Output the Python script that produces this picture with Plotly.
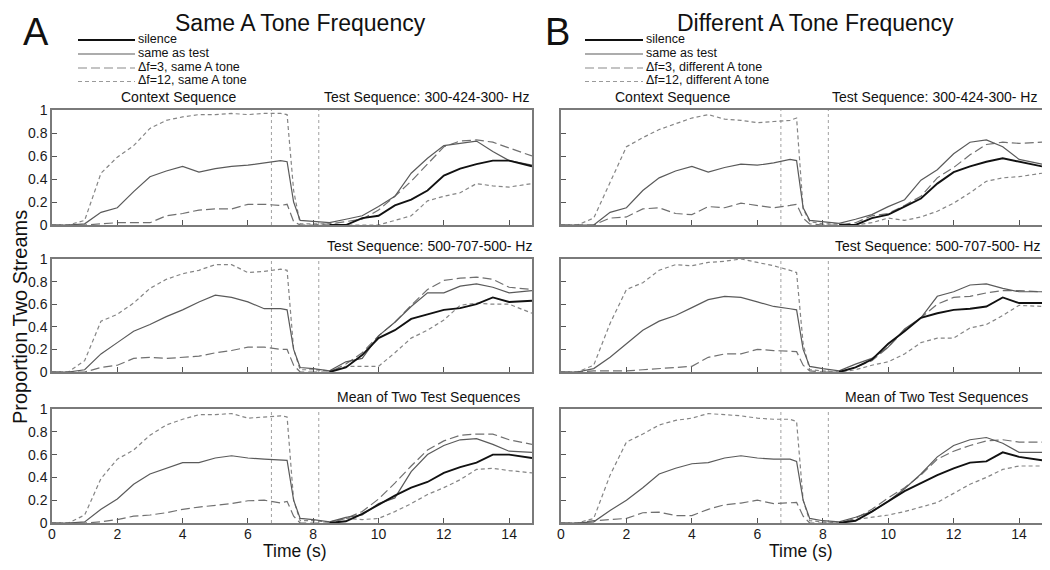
import plotly.graph_objects as go

# ---------------- data ----------------
T = [0, 0.5, 1.0, 1.5, 2.0, 2.5, 3.0, 3.5, 4.0, 4.5, 5.0, 5.5, 6.0, 6.5, 7.0, 7.2,
     7.4, 7.6, 8.0, 8.5, 9.0, 9.5, 10.0, 10.5, 11.0, 11.5, 12.0, 12.5, 13.0, 13.5, 14.0, 14.7]
T_SIL = [8.5, 9.0, 9.5, 10.0, 10.5, 11.0, 11.5, 12.0, 12.5, 13.0, 13.5, 14.0, 14.7]
BOUNDARIES = [6.72, 8.17]

# Panel A, test 300-424-300 Hz
A1_SIL = [0, 0, 0.06, 0.08, 0.17, 0.22, 0.3, 0.43, 0.49, 0.53, 0.56, 0.56, 0.51]
A1_SAME = [0, 0, 0.01, 0.11, 0.15, 0.29, 0.42, 0.47, 0.51, 0.46, 0.49, 0.51, 0.52, 0.54, 0.56, 0.55,
           0.2, 0.04, 0.03, 0.02, 0.05, 0.08, 0.16, 0.25, 0.45, 0.58, 0.69, 0.71, 0.73, 0.64, 0.56, 0.52]
A1_DF3 = [0, 0, 0, 0.01, 0.02, 0.02, 0.02, 0.08, 0.1, 0.13, 0.14, 0.14, 0.18, 0.18, 0.17, 0.18,
          0.03, 0, 0, 0.01, 0.03, 0.05, 0.13, 0.25, 0.38, 0.53, 0.68, 0.73, 0.74, 0.72, 0.67, 0.6]
A1_DF12 = [0, 0, 0.04, 0.45, 0.59, 0.69, 0.84, 0.91, 0.94, 0.96, 0.96, 0.97, 0.96, 0.97, 0.97, 0.96,
           0.3, 0.01, 0.01, 0.01, 0, 0, 0, 0.04, 0.08, 0.21, 0.25, 0.28, 0.36, 0.34, 0.33, 0.36]

# Panel B, test 300-424-300 Hz
B1_SIL = [0, 0, 0.06, 0.09, 0.16, 0.23, 0.36, 0.46, 0.51, 0.55, 0.58, 0.55, 0.51]
B1_SAME = [0, 0, 0.0, 0.11, 0.15, 0.3, 0.41, 0.47, 0.51, 0.46, 0.5, 0.53, 0.52, 0.54, 0.57, 0.56,
           0.15, 0.04, 0.03, 0.015, 0.05, 0.09, 0.16, 0.22, 0.39, 0.48, 0.62, 0.72, 0.74, 0.68, 0.57, 0.53]
B1_DF3 = [0, 0, 0.0, 0.06, 0.07, 0.14, 0.15, 0.1, 0.09, 0.16, 0.15, 0.19, 0.17, 0.15, 0.17, 0.18,
          0.06, 0.01, 0, 0, 0.02, 0.08, 0.1, 0.17, 0.25, 0.41, 0.5, 0.61, 0.7, 0.72, 0.71, 0.72]
B1_DF12 = [0, 0, 0.06, 0.37, 0.68, 0.76, 0.83, 0.88, 0.93, 0.96, 0.92, 0.91, 0.89, 0.9, 0.91, 0.93,
           0.14, 0.03, 0.01, 0.01, 0.0, 0.02, 0.06, 0.04, 0.07, 0.12, 0.19, 0.28, 0.38, 0.41, 0.42, 0.45]

# Panel A, test 500-707-500 Hz
A2_SIL = [0, 0.04, 0.15, 0.3, 0.37, 0.47, 0.51, 0.55, 0.565, 0.6, 0.66, 0.62, 0.63]
A2_SAME = [0, 0, 0.02, 0.16, 0.26, 0.36, 0.42, 0.49, 0.55, 0.62, 0.68, 0.66, 0.62, 0.56, 0.56, 0.55,
           0.2, 0.04, 0.03, 0.01, 0.09, 0.12, 0.32, 0.44, 0.58, 0.7, 0.7, 0.76, 0.78, 0.75, 0.7, 0.72]
A2_DF3 = [0, 0, 0, 0.04, 0.06, 0.12, 0.13, 0.12, 0.13, 0.14, 0.17, 0.19, 0.22, 0.22, 0.2, 0.2,
          0.06, 0.0, 0.0, 0.0, 0.07, 0.17, 0.32, 0.44, 0.59, 0.73, 0.81, 0.83, 0.84, 0.82, 0.75, 0.73]
A2_DF12 = [0, 0, 0.1, 0.45, 0.51, 0.61, 0.74, 0.82, 0.87, 0.9, 0.95, 0.95, 0.88, 0.89, 0.91, 0.9,
           0.2, 0.02, 0.02, 0.01, 0.05, 0.05, 0.05, 0.17, 0.3, 0.37, 0.46, 0.59, 0.61, 0.6, 0.6, 0.52]

# Panel B, test 500-707-500 Hz
B2_SIL = [0, 0.04, 0.11, 0.25, 0.36, 0.48, 0.52, 0.55, 0.56, 0.58, 0.66, 0.61, 0.61]
B2_SAME = [0, 0, 0.03, 0.13, 0.25, 0.37, 0.45, 0.5, 0.57, 0.64, 0.67, 0.66, 0.62, 0.58, 0.56, 0.55,
           0.2, 0.05, 0.03, 0.01, 0.07, 0.12, 0.22, 0.38, 0.48, 0.67, 0.71, 0.77, 0.78, 0.74, 0.71, 0.71]
B2_DF3 = [0, 0, 0.01, 0.01, 0.01, 0.02, 0.03, 0.04, 0.05, 0.13, 0.16, 0.16, 0.2, 0.19, 0.18, 0.18,
          0.06, 0.01, 0.0, 0.0, 0.04, 0.1, 0.22, 0.37, 0.48, 0.6, 0.66, 0.67, 0.7, 0.72, 0.72, 0.71]
B2_DF12 = [0, 0, 0.06, 0.43, 0.73, 0.79, 0.9, 0.95, 0.94, 0.97, 0.98, 1.0, 0.97, 0.94, 0.9, 0.88,
           0.25, 0.02, 0.01, 0.0, 0.02, 0.06, 0.09, 0.16, 0.26, 0.3, 0.3, 0.39, 0.42, 0.5, 0.59, 0.58]

# Panel A, mean of two test sequences
A3_SIL = [0, 0.015, 0.08, 0.16, 0.24, 0.31, 0.36, 0.44, 0.49, 0.53, 0.6, 0.6, 0.57]
A3_SAME = [0, 0, 0.01, 0.12, 0.21, 0.34, 0.43, 0.48, 0.53, 0.53, 0.57, 0.59, 0.57, 0.56, 0.55, 0.55,
           0.2, 0.04, 0.03, 0.01, 0.05, 0.07, 0.17, 0.22, 0.45, 0.6, 0.68, 0.73, 0.74, 0.69, 0.63, 0.62]
A3_DF3 = [0, 0, 0, 0.01, 0.03, 0.06, 0.07, 0.09, 0.12, 0.14, 0.155, 0.17, 0.195, 0.2, 0.175, 0.19,
          0.06, 0.0, 0.0, 0.0, 0.04, 0.1, 0.21, 0.35, 0.5, 0.64, 0.72, 0.77, 0.78, 0.78, 0.73, 0.69]
A3_DF12 = [0, 0, 0.07, 0.39, 0.56, 0.64, 0.77, 0.86, 0.91, 0.95, 0.95, 0.96, 0.92, 0.93, 0.94, 0.93,
           0.2, 0.02, 0.02, 0.01, 0.04, 0.03, 0.04, 0.1, 0.17, 0.25, 0.31, 0.38, 0.47, 0.48, 0.46, 0.44]

# Panel B, mean of two test sequences
B3_SIL = [0, 0.02, 0.1, 0.19, 0.28, 0.35, 0.42, 0.48, 0.53, 0.54, 0.62, 0.58, 0.55]
B3_SAME = [0, 0, 0.01, 0.11, 0.2, 0.31, 0.43, 0.48, 0.52, 0.53, 0.57, 0.59, 0.57, 0.56, 0.56, 0.54,
           0.2, 0.04, 0.02, 0.01, 0.05, 0.1, 0.19, 0.3, 0.43, 0.58, 0.68, 0.73, 0.75, 0.7, 0.62, 0.62]
B3_DF3 = [0, 0, 0.02, 0.03, 0.04, 0.09, 0.095, 0.065, 0.065, 0.12, 0.16, 0.175, 0.2, 0.17, 0.18, 0.18,
          0.06, 0.0, 0.0, 0.0, 0.04, 0.12, 0.22, 0.31, 0.42, 0.56, 0.63, 0.68, 0.72, 0.73, 0.71, 0.71]
B3_DF12 = [0, 0, 0.04, 0.42, 0.71, 0.78, 0.86, 0.9, 0.92, 0.96, 0.95, 0.94, 0.92, 0.91, 0.91, 0.89,
           0.2, 0.02, 0.01, 0.0, 0.03, 0.05, 0.07, 0.1, 0.14, 0.18, 0.26, 0.34, 0.4, 0.47, 0.5, 0.5]

X_TICKS = [0, 2, 4, 6, 8, 10, 12, 14]
Y_TICKS = [0, 0.2, 0.4, 0.6, 0.8, 1]
Y_TICK_TEXT = ["0", "0.2", "0.4", "0.6", "0.8", "1"]

LEGEND_A = ["silence", "same as test", "\u0394f=3, same A tone", "\u0394f=12, same A tone"]
LEGEND_B = ["silence", "same as test", "\u0394f=3, different A tone", "\u0394f=12, different A tone"]

# ---------------- layout helpers ----------------
# the page body has an 8px margin, so the figure is 8px smaller and
# all window-pixel positions are shifted by that offset
OFF = 8
W, H = 1050 - OFF, 570 - OFF
FONT = "Arial, 'Liberation Sans', sans-serif"


def pxx(x):
    return (x - OFF) / W


def pxy(y):
    return 1 - (y - OFF) / H


COLS = [(52, 532), (561, 1042)]
ROWS = [(110, 225), (259, 372), (409, 523)]

STYLES = {
    "sil": dict(color="#111111", width=1.9, dash="solid"),
    "same": dict(color="#5a5a5a", width=1.2, dash="solid"),
    "df3": dict(color="#707070", width=1.2, dash="9px,4px"),
    "df12": dict(color="#858585", width=1.2, dash="4px,3px"),
}

PANELS = [
    (0, 0, A1_SIL, A1_SAME, A1_DF3, A1_DF12),
    (0, 1, B1_SIL, B1_SAME, B1_DF3, B1_DF12),
    (1, 0, A2_SIL, A2_SAME, A2_DF3, A2_DF12),
    (1, 1, B2_SIL, B2_SAME, B2_DF3, B2_DF12),
    (2, 0, A3_SIL, A3_SAME, A3_DF3, A3_DF12),
    (2, 1, B3_SIL, B3_SAME, B3_DF3, B3_DF12),
]

fig = go.Figure()
layout = {}
shapes = []

for k, (r, c, sil, same, df3, df12) in enumerate(PANELS, start=1):
    xa = "x" if k == 1 else f"x{k}"
    ya = "y" if k == 1 else f"y{k}"
    for name, xs, ys in (("df12", T, df12), ("df3", T, df3), ("same", T, same), ("sil", T_SIL, sil)):
        fig.add_trace(go.Scatter(x=xs, y=ys, mode="lines", line=STYLES[name],
                                 xaxis=xa, yaxis=ya, showlegend=False, hoverinfo="skip"))
    x0, x1 = COLS[c]
    ytop, ybot = ROWS[r]
    axis_common = dict(showline=True, linecolor="#7a7a7a", linewidth=1.5, mirror=True,
                       ticks="inside", ticklen=5, tickwidth=1, tickcolor="#555555",
                       showgrid=False, zeroline=False, automargin=False, fixedrange=True,
                       tickfont=dict(family=FONT, size=14, color="#1a1a1a"))
    layout["xaxis" if k == 1 else f"xaxis{k}"] = dict(
        axis_common, domain=[pxx(x0), pxx(x1)], anchor=ya, range=[0, 14.7],
        tickmode="array", tickvals=X_TICKS, showticklabels=(r == 2), ticklabelstandoff=-3)
    layout["yaxis" if k == 1 else f"yaxis{k}"] = dict(
        axis_common, domain=[pxy(ybot), pxy(ytop)], anchor=xa, range=[0, 1],
        tickmode="array", tickvals=Y_TICKS, ticktext=Y_TICK_TEXT, showticklabels=(c == 0))
    for b in BOUNDARIES:
        shapes.append(dict(type="line", xref=xa, yref=ya, x0=b, x1=b, y0=0, y1=1,
                           line=dict(color="#a0a0a0", width=1, dash="dot"), layer="below"))

annotations = []


def text(s, x, y, size, xanchor="center", yanchor="middle", angle=0, color="#111111"):
    annotations.append(dict(text=s, x=pxx(x), y=pxy(y), xref="paper", yref="paper",
                            showarrow=False, xanchor=xanchor, yanchor=yanchor, textangle=angle,
                            font=dict(family=FONT, size=size, color=color)))


# panel letters and titles
text("A", 36, 32, 38)
text("B", 557, 32, 38)
text("Same A Tone Frequency", 300, 8, 23, yanchor="top")
text("Different A Tone Frequency", 815, 8, 23, yanchor="top")

# legends
LEG_ROWS = [40, 54, 68, 81.5]
LEG_KEYS = ["sil", "same", "df3", "df12"]
for (lx0, lx1, labels) in ((78, 135, LEGEND_A), (585, 643, LEGEND_B)):
    for yy, key, lab in zip(LEG_ROWS, LEG_KEYS, labels):
        st = dict(STYLES[key])
        if key == "df3":
            st["color"] = "#8a8a8a"
        if key == "df12":
            st["color"] = "#9a9a9a"
        shapes.append(dict(type="line", xref="paper", yref="paper",
                           x0=pxx(lx0), x1=pxx(lx1), y0=pxy(yy), y1=pxy(yy), line=st))
        text(lab, lx1 + 1, yy - 1, 12.5, xanchor="left")

# subplot titles
text("Context Sequence", 178, 97, 14)
text("Context Sequence", 672, 97, 14)
text("Test Sequence: 300-424-300- Hz", 322, 97, 14, xanchor="left")
text("Test Sequence: 300-424-300- Hz", 830, 97, 14, xanchor="left")
text("Test Sequence: 500-707-500- Hz", 325, 246, 14, xanchor="left")
text("Test Sequence: 500-707-500- Hz", 833, 246, 14, xanchor="left")
text("Mean of Two Test Sequences", 335, 397, 14, xanchor="left")
text("Mean of Two Test Sequences", 843, 397, 14, xanchor="left")

# axis titles
text("Proportion Two Streams", 20, 317, 20, angle=-90)
text("Time (s)", 295, 551, 17.5)
text("Time (s)", 801, 551, 17.5)

fig.update_layout(
    width=W, height=H, margin=dict(l=0, r=0, t=0, b=0),
    paper_bgcolor="white", plot_bgcolor="white",
    template="none", showlegend=False,
    shapes=shapes, annotations=annotations,
    font=dict(family=FONT),
    **layout,
)

fig.write_html("out.html")
